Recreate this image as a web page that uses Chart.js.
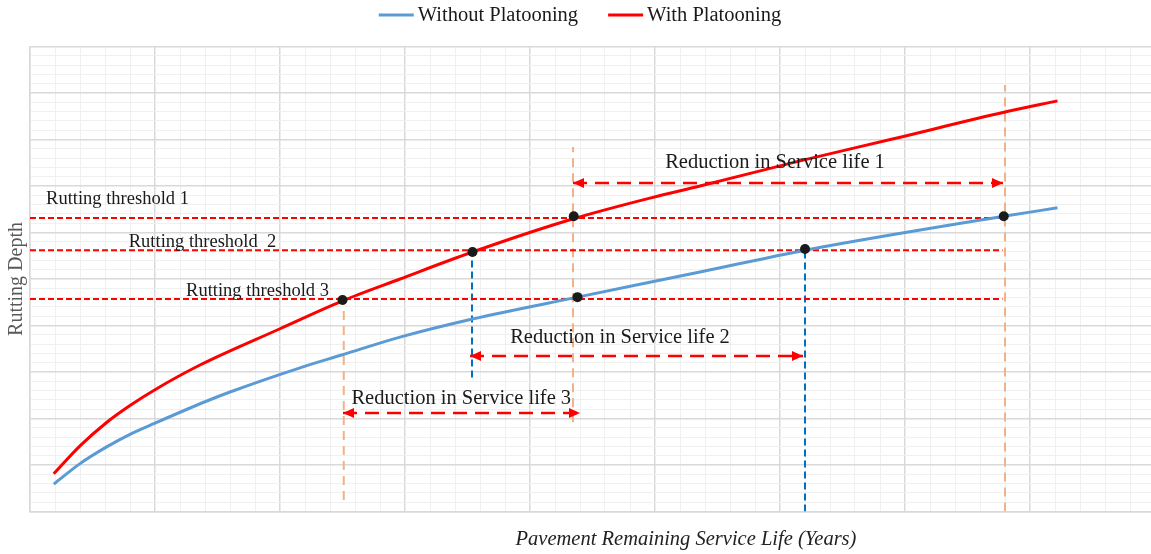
<!DOCTYPE html>
<html>
<head>
<meta charset="utf-8">
<script src="https://cdn.jsdelivr.net/npm/chart.js@4/dist/chart.umd.min.js"></script>
<style>
  html, body { margin: 0; padding: 0; background: #fff; overflow: hidden; }
  canvas { display: block; }
</style>
</head>
<body>
<canvas id="rutChart" width="1151" height="554"></canvas>
<script>
// Curves (x = years, y = rutting depth, arbitrary units)
const withoutX = [0.19, 0.4, 0.62, 0.8, 1.0, 1.4, 1.6, 2.16, 2.5, 2.96, 3.54, 4.38, 5.36, 6.2, 7.79, 8.22];
const withoutY = [0.59, 1.03, 1.4, 1.66, 1.9, 2.36, 2.57, 3.09, 3.37, 3.75, 4.14, 4.61, 5.15, 5.62, 6.35, 6.53];
const withX = [0.19, 0.4, 0.62, 0.8, 1.0, 1.36, 2.0, 2.5, 2.96, 3.54, 4.34, 4.96, 5.36, 6.16, 6.9, 7.8, 8.22];
const withY = [0.81, 1.41, 1.93, 2.28, 2.62, 3.15, 3.93, 4.53, 5.0, 5.58, 6.29, 6.74, 7.0, 7.54, 8.01, 8.59, 8.83];

// Axis ranges (the plot is cut off by the right edge of the page)
const xMax = 8.968;
const yMax = 10;

// Rutting thresholds and the crossings
const thresholds = [6.31, 5.62, 4.57];
const thresholdEnd = 7.78;
const crossX = [4.35, 7.79, 3.54, 6.2, 2.5, 4.38];
const crossY = [6.35, 6.35, 5.58, 5.645, 4.55, 4.61];

// Guide lines [x, yFrom, yTo]
const orangeGuides = [[4.344, 1.92, 7.84], [7.8, 0, 9.17], [2.51, 0.25, 4.5]];
const blueGuides = [[3.536, 2.88, 5.58], [6.2, 0, 5.645]];

// Reduction arrows [y, xFrom, xTo]
const arrows = [[7.065, 4.344, 7.784], [3.344, 3.52, 6.184], [2.118, 2.504, 4.4]];

// Text labels [text, x centre, y centre]
const thresholdLabels = [['Rutting threshold 1', 0.7, 6.72], ['Rutting threshold  2', 1.38, 5.8], ['Rutting threshold 3', 1.82, 4.74]];
const reductionLabels = [['Reduction in Service life 1', 5.96, 7.5], ['Reduction in Service life 2', 4.72, 3.73], ['Reduction in Service life 3', 3.45, 2.42]];

const pts = (xs, ys) => xs.map((x, i) => ({ x: x, y: ys[i] }));
const onStep = v => Math.abs(v * 5 - Math.round(v * 5)) < 1e-6;
const isMajor = v => Math.abs(v - Math.round(v)) < 1e-6;
const serif = "'Liberation Serif', 'Times New Roman', serif";

const datasets = [
    {
        label: 'Without Platooning',
        data: pts(withoutX, withoutY),
        borderColor: '#5b9bd5',
        borderWidth: 3,
        cubicInterpolationMode: 'monotone',
        order: 1
    },
    {
        label: 'With Platooning',
        data: pts(withX, withY),
        borderColor: '#ff0000',
        borderWidth: 3,
        cubicInterpolationMode: 'monotone',
        order: 1
    },
    {
        label: 'crossings',
        data: pts(crossX, crossY),
        showLine: false,
        pointRadius: 5,
        pointBackgroundColor: '#1a1a1a',
        pointBorderWidth: 0,
        order: 0
    }
];

thresholds.forEach(t => datasets.push({
    data: [{ x: 0, y: t }, { x: thresholdEnd, y: t }],
    borderColor: '#ff0000', borderWidth: 2, borderDash: [6, 3], order: 2
}));
orangeGuides.forEach(g => datasets.push({
    data: [{ x: g[0], y: g[1] }, { x: g[0], y: g[2] }],
    borderColor: '#f4b183', borderWidth: 2, borderDash: [9, 6], order: 3
}));
blueGuides.forEach(g => datasets.push({
    data: [{ x: g[0], y: g[1] }, { x: g[0], y: g[2] }],
    borderColor: '#0070c0', borderWidth: 2, borderDash: [7, 4], order: 3
}));
arrows.forEach(a => datasets.push({
    data: [{ x: a[1], y: a[0] }, { x: a[2], y: a[0] }],
    borderColor: '#ff0000', borderWidth: 2.5, borderDash: [14, 8], order: 2, arrows: true
}));

function drawHead(ctx, px, py, dir, color) {
    ctx.beginPath();
    ctx.moveTo(px, py);
    ctx.lineTo(px - dir * 11, py - 5);
    ctx.lineTo(px - dir * 11, py + 5);
    ctx.closePath();
    ctx.fillStyle = color;
    ctx.fill();
}

// Arrow heads, labels, titles and legend
const extras = {
    id: 'extras',
    afterDatasetsDraw(chart) {
        const { ctx, scales: { x, y } } = chart;
        ctx.save();
        chart.data.datasets.forEach(ds => {
            if (!ds.arrows) return;
            const a = ds.data[0], b = ds.data[1];
            drawHead(ctx, x.getPixelForValue(a.x), y.getPixelForValue(a.y), -1, ds.borderColor);
            drawHead(ctx, x.getPixelForValue(b.x), y.getPixelForValue(b.y), 1, ds.borderColor);
        });
        ctx.fillStyle = '#1a1a1a';
        ctx.textAlign = 'center';
        ctx.textBaseline = 'middle';
        ctx.font = '18.5px ' + serif;
        thresholdLabels.forEach(l => ctx.fillText(l[0], x.getPixelForValue(l[1]), y.getPixelForValue(l[2])));
        ctx.font = '20.5px ' + serif;
        reductionLabels.forEach(l => ctx.fillText(l[0], x.getPixelForValue(l[1]), y.getPixelForValue(l[2])));
        ctx.restore();
    },
    afterDraw(chart) {
        const { ctx, chartArea } = chart;
        ctx.save();
        // axis titles
        ctx.textAlign = 'center';
        ctx.textBaseline = 'middle';
        ctx.fillStyle = '#222';
        ctx.font = 'italic 20.5px ' + serif;
        ctx.fillText('Pavement Remaining Service Life (Years)', 686, chartArea.bottom + 28.5);
        ctx.save();
        ctx.translate(17, (chartArea.top + chartArea.bottom) / 2);
        ctx.rotate(-Math.PI / 2);
        ctx.fillStyle = '#595959';
        ctx.font = '20px ' + serif;
        ctx.fillText('Rutting Depth', 0, 0);
        ctx.restore();
        // legend
        ctx.font = '20.5px ' + serif;
        const items = chart.data.datasets.slice(0, 2);
        const boxW = 35, gapText = 4, gapItem = 30;
        const widths = items.map(d => boxW + gapText + ctx.measureText(d.label).width);
        const total = widths.reduce((s, w) => s + w, 0) + gapItem * (items.length - 1);
        let lx = 580 - total / 2;
        const ly = 15;
        ctx.textAlign = 'left';
        items.forEach((d, i) => {
            ctx.strokeStyle = d.borderColor;
            ctx.lineWidth = 3;
            ctx.beginPath();
            ctx.moveTo(lx, ly);
            ctx.lineTo(lx + boxW, ly);
            ctx.stroke();
            ctx.fillStyle = '#1a1a1a';
            ctx.fillText(d.label, lx + boxW + gapText, ly + 1);
            lx += widths[i] + gapItem;
        });
        ctx.restore();
    }
};

const gridOpts = {
    color: c => !onStep(c.tick.value) ? 'rgba(0,0,0,0)' : isMajor(c.tick.value) ? '#d9d9d9' : '#f0f0f0',
    lineWidth: c => isMajor(c.tick.value) ? 1.5 : 1,
    drawTicks: false
};

new Chart(document.getElementById('rutChart').getContext('2d'), {
    type: 'scatter',
    data: { datasets: datasets },
    options: {
        responsive: false,
        animation: false,
        showLine: true,
        devicePixelRatio: 1,
        layout: { autoPadding: false, padding: { top: 46.5, left: 30, right: 0, bottom: 42.5 } },
        elements: { point: { radius: 0 } },
        plugins: { legend: { display: false }, tooltip: { enabled: false } },
        scales: {
            x: {
                type: 'linear', min: 0, max: xMax,
                ticks: { display: false, stepSize: 0.2, includeBounds: false },
                grid: gridOpts,
                border: { color: '#d9d9d9', width: 1.5 }
            },
            y: {
                type: 'linear', min: 0, max: yMax,
                ticks: { display: false, stepSize: 0.2 },
                grid: gridOpts,
                border: { color: '#d9d9d9', width: 1.5 }
            }
        }
    },
    plugins: [extras]
});
</script>
</body>
</html>
